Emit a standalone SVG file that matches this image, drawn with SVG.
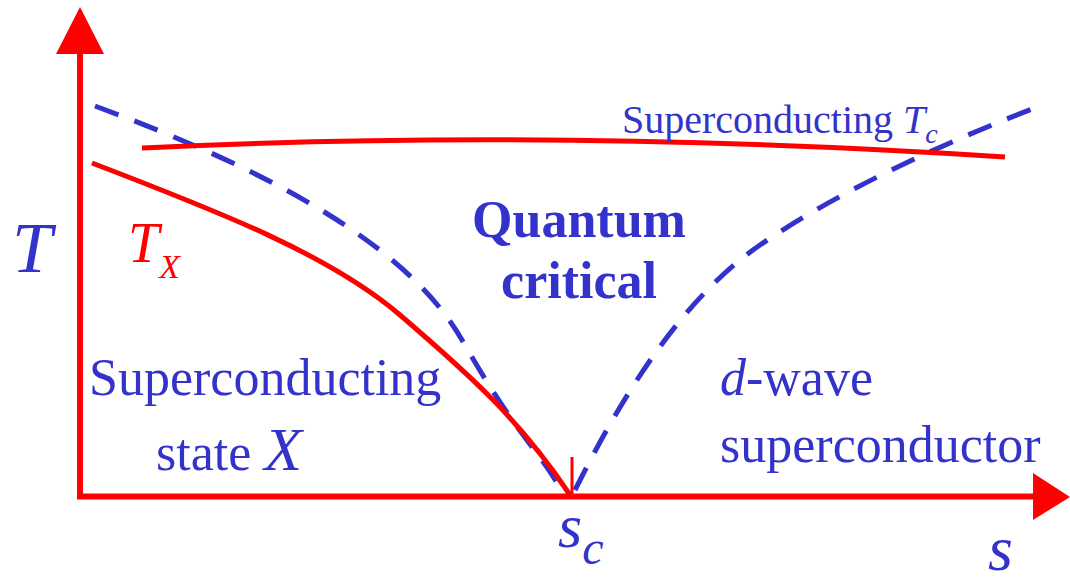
<svg xmlns="http://www.w3.org/2000/svg" width="1070" height="584" viewBox="0 0 1070 584">
<style>
.blue{fill:#3333cc;font-family:"Liberation Serif",serif}
.red{fill:#ff0000;font-family:"Liberation Serif",serif}
.it{font-style:italic}
.dash{fill:none;stroke:#3333cc;stroke-width:5;stroke-dasharray:25 17}
.rl{fill:none;stroke:#ff0000;stroke-width:5}
</style>
<rect width="1070" height="584" fill="#fff"/>
<g id="axes">
<line x1="80" y1="499" x2="80" y2="50" stroke="#ff0000" stroke-width="6"/>
<polygon points="80,7 56,54 104,54" fill="#ff0000"/>
<line x1="77" y1="496.5" x2="1036" y2="496.5" stroke="#ff0000" stroke-width="6"/>
<polygon points="1070,497 1033,473 1033,520" fill="#ff0000"/>
<line x1="572" y1="457" x2="572" y2="496" stroke="#ff0000" stroke-width="3"/>
</g>
<g id="connectors">
<path class="dash" d="M95,106 C255,165 405,240 462,340 S540,450 562,492"/>
<path class="dash" d="M575,490 C620,400 680,300 760,245 S950,140 1045,104"/>
<path class="rl" d="M92,163 C220,212 330,255 400,315 S520,420 570,495"/>
<path class="rl" d="M142,148 Q560,128 1005,157"/>
</g>
<g id="labels">
<text class="blue it" x="12" y="272" font-size="72">T</text>
<text class="red it" x="128" y="262" font-size="56">T<tspan font-size="34" dy="16">X</tspan></text>
<text class="blue" x="622" y="133" font-size="40">Superconducting <tspan class="it">T</tspan><tspan class="it" font-size="28" dy="10">c</tspan></text>
<text class="blue" x="579" y="237" font-size="52" font-weight="bold" text-anchor="middle">Quantum</text>
<text class="blue" x="579" y="298" font-size="52" font-weight="bold" text-anchor="middle">critical</text>
<text class="blue" x="89" y="395" font-size="52">Superconducting</text>
<text class="blue" x="156" y="470" font-size="52">state <tspan class="it" font-size="62">X</tspan></text>
<text class="blue" x="720" y="395" font-size="52"><tspan class="it">d</tspan>-wave</text>
<text class="blue" x="720" y="462" font-size="52">superconductor</text>
<text class="blue it" x="558" y="547" font-size="62">s<tspan font-size="48" dy="17">c</tspan></text>
<text class="blue it" x="988" y="570" font-size="64">s</text>
</g>
</svg>
